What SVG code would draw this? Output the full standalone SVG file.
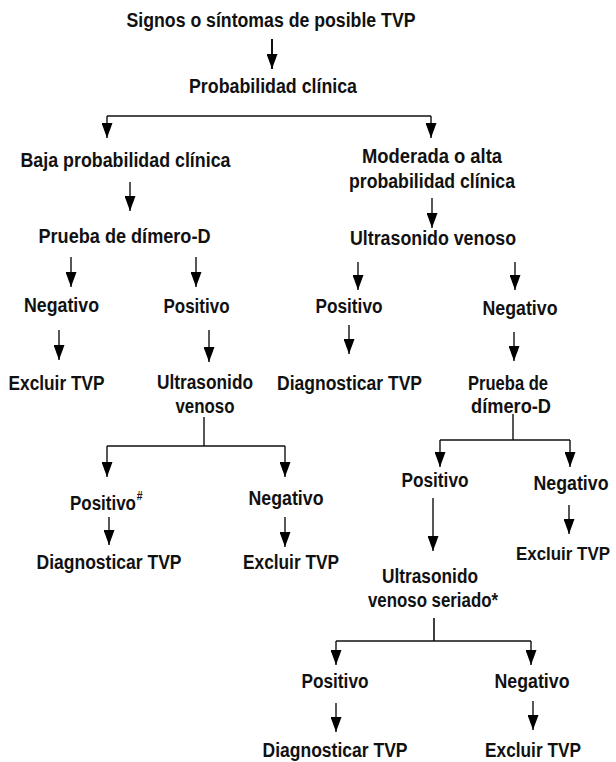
<svg xmlns="http://www.w3.org/2000/svg" width="616" height="762" viewBox="0 0 616 762">
<style>
text{font-family:"Liberation Sans",Arial,sans-serif;font-weight:bold;font-size:19.5px;fill:#111;text-anchor:middle}
text.st{text-anchor:start}
.sup{font-size:12px}
.c line,.c path{stroke:#111;stroke-width:1.4;fill:none}
.c .arr{marker-end:url(#ah)}
</style>
<defs>
<marker id="ah" markerWidth="15" markerHeight="11" refX="15" refY="5.5" orient="auto" markerUnits="userSpaceOnUse">
<path d="M0,0 L15,5.5 L0,11 z" fill="#000"/>
</marker>
</defs>
<g id="connectors" class="c">
<line class="arr" x1="272" y1="39" x2="272" y2="69" style="stroke-width:2"/>
<path d="M107,116 H431"/>
<line class="arr" x1="107" y1="116" x2="107" y2="138"/>
<line class="arr" x1="431" y1="116" x2="431" y2="138"/>
<line class="arr" x1="130" y1="182" x2="130" y2="211"/>
<line class="arr" x1="432" y1="198" x2="432" y2="228"/>
<line class="arr" x1="71" y1="257" x2="71" y2="287"/>
<line class="arr" x1="196" y1="257" x2="196" y2="287"/>
<line class="arr" x1="358" y1="262" x2="358" y2="290"/>
<line class="arr" x1="515" y1="262" x2="515" y2="290"/>
<line class="arr" x1="59" y1="330" x2="59" y2="360"/>
<line class="arr" x1="209" y1="330" x2="209" y2="362"/>
<line class="arr" x1="349" y1="325" x2="349" y2="354"/>
<line class="arr" x1="514" y1="332" x2="514" y2="361"/>
<path d="M204,417 V446 M107,446 H285"/>
<line class="arr" x1="107" y1="446" x2="107" y2="477"/>
<line class="arr" x1="285" y1="446" x2="285" y2="477"/>
<path d="M513,414 V440 M440,440 H570"/>
<line class="arr" x1="440" y1="440" x2="440" y2="467"/>
<line class="arr" x1="570" y1="440" x2="570" y2="467"/>
<line class="arr" x1="109" y1="517" x2="109" y2="545"/>
<line class="arr" x1="285" y1="517" x2="285" y2="547"/>
<line class="arr" x1="433" y1="498" x2="433" y2="551"/>
<line class="arr" x1="569" y1="505" x2="569" y2="534"/>
<path d="M434,618 V641 M336,641 H531" style="stroke-width:1.6"/>
<line class="arr" x1="336" y1="641" x2="336" y2="665"/>
<line class="arr" x1="531" y1="641" x2="531" y2="665"/>
<line class="arr" x1="336" y1="703" x2="336" y2="732"/>
<line class="arr" x1="533" y1="701" x2="533" y2="730"/>
</g>
<g id="n1"><text x="271" y="27" textLength="289" lengthAdjust="spacingAndGlyphs">Signos o síntomas de posible TVP</text></g>
<g id="n2"><text x="273" y="93" textLength="168" lengthAdjust="spacingAndGlyphs">Probabilidad clínica</text></g>
<g id="n3"><text x="125.5" y="167" textLength="210" lengthAdjust="spacingAndGlyphs">Baja probabilidad clínica</text></g>
<g id="n4"><text x="432" y="163" textLength="140" lengthAdjust="spacingAndGlyphs">Moderada o alta</text><text x="432" y="188" textLength="166" lengthAdjust="spacingAndGlyphs">probabilidad clínica</text></g>
<g id="n5"><text x="124.5" y="243" textLength="172" lengthAdjust="spacingAndGlyphs">Prueba de dímero-D</text></g>
<g id="n6"><text x="433" y="245" textLength="166" lengthAdjust="spacingAndGlyphs">Ultrasonido venoso</text></g>
<g id="n7"><text x="61.5" y="312" textLength="75" lengthAdjust="spacingAndGlyphs">Negativo</text></g>
<g id="n8"><text x="196.5" y="313" textLength="66" lengthAdjust="spacingAndGlyphs">Positivo</text></g>
<g id="n9"><text x="349" y="313" textLength="67" lengthAdjust="spacingAndGlyphs">Positivo</text></g>
<g id="n10"><text x="520" y="315" textLength="75" lengthAdjust="spacingAndGlyphs">Negativo</text></g>
<g id="n11"><text x="56.5" y="390" textLength="96" lengthAdjust="spacingAndGlyphs">Excluir TVP</text></g>
<g id="n12"><text x="205" y="389" textLength="96" lengthAdjust="spacingAndGlyphs">Ultrasonido</text><text x="205" y="413" textLength="59" lengthAdjust="spacingAndGlyphs">venoso</text></g>
<g id="n13"><text x="349.5" y="390" textLength="145" lengthAdjust="spacingAndGlyphs">Diagnosticar TVP</text></g>
<g id="n14"><text x="508" y="390" textLength="80" lengthAdjust="spacingAndGlyphs">Prueba de</text><text x="511" y="413" textLength="80" lengthAdjust="spacingAndGlyphs">dímero-D</text></g>
<g id="n15"><text class="st" transform="translate(70,510) scale(0.87,1)" x="0" y="0">Positivo<tspan class="sup" dx="1" dy="-10">#</tspan></text></g>
<g id="n16"><text x="286" y="505" textLength="75" lengthAdjust="spacingAndGlyphs">Negativo</text></g>
<g id="n17"><text x="435" y="487" textLength="67" lengthAdjust="spacingAndGlyphs">Positivo</text></g>
<g id="n18"><text x="571" y="490" textLength="75" lengthAdjust="spacingAndGlyphs">Negativo</text></g>
<g id="n19"><text x="109" y="569" textLength="145" lengthAdjust="spacingAndGlyphs">Diagnosticar TVP</text></g>
<g id="n20"><text x="291" y="569" textLength="96" lengthAdjust="spacingAndGlyphs">Excluir TVP</text></g>
<g id="n21"><text x="563" y="560" textLength="94" lengthAdjust="spacingAndGlyphs" style="font-size:18px">Excluir TVP</text></g>
<g id="n22"><text x="430" y="583" textLength="96" lengthAdjust="spacingAndGlyphs">Ultrasonido</text><text x="433" y="607" textLength="130" lengthAdjust="spacingAndGlyphs">venoso seriado*</text></g>
<g id="n23"><text x="335" y="688" textLength="67" lengthAdjust="spacingAndGlyphs">Positivo</text></g>
<g id="n24"><text x="532" y="688" textLength="75" lengthAdjust="spacingAndGlyphs">Negativo</text></g>
<g id="n25"><text x="335" y="757" textLength="145" lengthAdjust="spacingAndGlyphs">Diagnosticar TVP</text></g>
<g id="n26"><text x="533" y="757" textLength="96" lengthAdjust="spacingAndGlyphs">Excluir TVP</text></g>
</svg>
